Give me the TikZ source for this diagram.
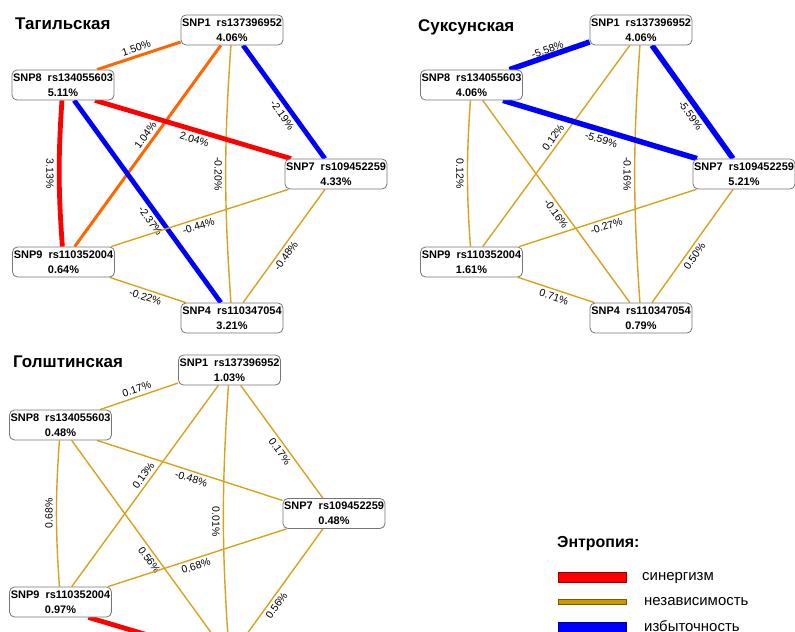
\documentclass[tikz,border=0pt]{standalone}
\usepackage{fontspec}
\setmainfont{Liberation Sans}
\usepackage{xcolor}
\usetikzlibrary{backgrounds}

\definecolor{synred}{RGB}{255,0,0}
\definecolor{synorange}{RGB}{255,102,0}
\definecolor{indgold}{RGB}{216,162,28}
\definecolor{legendgold}{RGB}{204,153,0}
\definecolor{redblue}{RGB}{0,0,255}
\definecolor{boxgray}{RGB}{118,118,118}

\begin{document}
\begin{tikzpicture}[x=1bp, y=-1bp,
    snp/.style={rectangle, rounded corners=5bp, draw=boxgray, line width=0.8bp, fill=white, align=center,
        minimum width=102bp, minimum height=30bp, inner sep=1bp,
        font=\bfseries\fontsize{11}{15.5}\selectfont},
    lbl/.style={font=\fontsize{10.5}{12}\selectfont, inner sep=3bp, sloped},
    breed/.style={anchor=base west, inner sep=0pt, font=\bfseries\fontsize{17}{19}\selectfont},
    legtext/.style={anchor=base west, inner sep=0pt, font=\fontsize{15}{18}\selectfont},
    synline/.style={draw=synred, line width=4.8bp},
    halfline/.style={draw=synorange, line width=3bp},
    indline/.style={draw=indgold, line width=1.4bp},
    redline/.style={draw=redblue, line width=4.8bp}]

    \useasboundingbox (0,0) rectangle (795,632);
    \clip (0,0) rectangle (795,632);

    % Тагильская
    \node[breed] (tagtitle) at (15,30) {Тагильская};
    \node[snp] (t1) at (232,30) {SNP1\ \ rs137396952\\4.06\%};
    \node[snp] (t8) at (63,85) {SNP8\ \ rs134055603\\5.11\%};
    \node[snp] (t7) at (336,174) {SNP7\ \ rs109452259\\4.33\%};
    \node[snp] (t9) at (63.5,262) {SNP9\ \ rs110352004\\0.64\%};
    \node[snp] (t4) at (232,318) {SNP4\ \ rs110347054\\3.21\%};

    \begin{pgfonlayer}{background}
    \draw[halfline] ([yshift=-12bp]t1.west) -- node[lbl, above] {1.50\%} ([xshift=34bp]t8.north);
    \draw[halfline] (t1) -- node[lbl, above, pos=.47] {1.04\%} (t9);
    \draw[redline] (t1) -- node[lbl, below, pos=.57] {-2.19\%} (t7);
    \draw[indline] (t1) to[bend right=4] node[lbl, below, allow upside down] {-0.20\%} (t4);
    \draw[synline] ([xshift=32bp]t8.south) -- node[lbl, below, pos=.52] {2.04\%} ([xshift=-45bp]t7.north);
    \draw[synline] (t8) to[bend right=4] node[lbl, below, allow upside down] {3.13\%} (t9);
    \draw[redline] (t8) -- node[lbl, below, pos=.57] {-2.37\%} (t4);
    \draw[indline] (t7) -- node[lbl, below, pos=.52] {-0.44\%} (t9);
    \draw[indline] (t7) -- node[lbl, below, pos=.55] {-0.48\%} (t4);
    \draw[indline] (t9) -- node[lbl, below] {-0.22\%} (t4);
    \end{pgfonlayer}

    % Суксунская
    \node[breed] (suktitle) at (418,32) {Суксунская};
    \node[snp] (s1) at (641,30) {SNP1\ \ rs137396952\\4.06\%};
    \node[snp] (s8) at (471.5,85) {SNP8\ \ rs134055603\\4.06\%};
    \node[snp] (s7) at (744,174) {SNP7\ \ rs109452259\\5.21\%};
    \node[snp] (s9) at (471.5,262) {SNP9\ \ rs110352004\\1.61\%};
    \node[snp] (s4) at (641,318) {SNP4\ \ rs110347054\\0.79\%};

    \begin{pgfonlayer}{background}
    \draw[redline, line width=5.5bp] ([yshift=-12bp]s1.west) -- node[lbl, above, inner sep=0pt] {-5.58\%} ([xshift=38bp]s8.north);
    \draw[indline] (s1) -- node[lbl, above, pos=.48] {0.12\%} (s9);
    \draw[redline, line width=5.5bp] (s1) -- node[lbl, below, pos=.57] {-5.59\%} (s7);
    \draw[indline] (s1) to[bend right=4] node[lbl, below, allow upside down] {-0.16\%} (s4);
    \draw[redline, line width=5.5bp] ([xshift=31.5bp]s8.south) -- node[lbl, below, pos=.52] {-5.59\%} ([xshift=-47bp]s7.north);
    \draw[indline] (s8) to[bend right=4] node[lbl, below, allow upside down] {0.12\%} (s9);
    \draw[indline] (s8) -- node[lbl, below, pos=.54] {-0.16\%} (s4);
    \draw[indline] (s7) -- node[lbl, below, pos=.52] {-0.27\%} (s9);
    \draw[indline] (s7) -- node[lbl, below, pos=.55] {0.50\%} (s4);
    \draw[indline] (s9) -- node[lbl, below] {0.71\%} (s4);
    \end{pgfonlayer}

    % Голштинская
    \node[breed] (goltitle) at (13,367) {Голштинская};
    \node[snp] (g1) at (229.5,370) {SNP1\ \ rs137396952\\1.03\%};
    \node[snp] (g8) at (60.5,425) {SNP8\ \ rs134055603\\0.48\%};
    \node[snp] (g7) at (334,513.5) {SNP7\ \ rs109452259\\0.48\%};
    \node[snp] (g9) at (60.5,602) {SNP9\ \ rs110352004\\0.97\%};
    \coordinate (g4) at (229.5,658);

    \begin{pgfonlayer}{background}
    \draw[indline] ([yshift=-13bp]g1.west) -- node[lbl, above] {0.17\%} ([xshift=39.5bp]g8.north);
    \draw[indline] (g1) -- node[lbl, above, pos=.47] {0.13\%} (g9);
    \draw[indline] (g1) -- node[lbl, below, pos=.55] {0.17\%} (g7);
    \draw[indline] (g1) to[bend right=4] node[lbl, below, allow upside down] {0.01\%} (g4);
    \draw[indline] ([xshift=36.5bp]g8.south) -- node[lbl, below, pos=.52] {-0.48\%} ([yshift=13bp]g7.west);
    \draw[indline] (g9) to[bend left=4] node[lbl, above, allow upside down] {0.68\%} (g8);
    \draw[indline] (g8) -- node[lbl, below, pos=.53] {0.56\%} (g4);
    \draw[indline] (g7) -- node[lbl, below, pos=.52] {0.68\%} (g9);
    \draw[indline] (g7) -- node[lbl, below, pos=.56] {0.56\%} (g4);
    \draw[synline] ([shift={(28,0)}]g9.south) -- ([shift={(-55,-15)}]g4);
    \end{pgfonlayer}

    % Энтропия
    \node[breed, font=\bfseries\fontsize{16}{18}\selectfont] (legtitle) at (557,547) {Энтропия:};
    \draw[fill=synred, draw=synred!60!black, line width=0.6bp] (558,572) rectangle (626,582);
    \draw[fill=legendgold, draw=legendgold!60!black, line width=0.6bp] (558,599) rectangle (626,604);
    \draw[fill=redblue, draw=redblue!60!black, line width=0.6bp] (558,622) rectangle (626,634);
    \node[legtext] (legsyn) at (642,580) {синергизм};
    \node[legtext] (legind) at (644,605) {независимость};
    \node[legtext] (legred) at (644,631) {избыточность};
\end{tikzpicture}
\end{document}
